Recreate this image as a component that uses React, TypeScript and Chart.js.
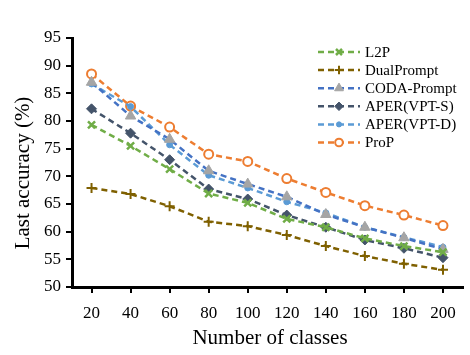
import React, { useEffect, useRef } from "react";
import { Chart, registerables } from "chart.js";
import { drawPoint } from "chart.js/helpers";

Chart.register(...registerables);

const categories = ["20", "40", "60", "80", "100", "120", "140", "160", "180", "200"];
const l2p = [79.3, 75.5, 71.3, 66.9, 65.2, 62.3, 60.8, 58.8, 57.4, 56.3];
const dualPrompt = [67.9, 66.8, 64.6, 61.8, 61.0, 59.4, 57.4, 55.6, 54.2, 53.1];
const codaPrompt = [87.0, 80.9, 76.7, 71.0, 68.6, 66.3, 63.1, 60.8, 58.9, 56.8];
const aperS = [82.2, 77.8, 73.0, 67.7, 65.9, 63.0, 60.8, 58.5, 57.0, 55.3];
const aperD = [86.7, 82.6, 75.7, 70.2, 67.9, 65.4, 63.4, 60.8, 59.0, 57.2];
const prop = [88.5, 82.7, 78.9, 74.0, 72.7, 69.6, 67.1, 64.7, 63.0, 61.1];
const yTicks = [50, 55, 60, 65, 70, 75, 80, 85, 90, 95];
const xTitle = "Number of classes";
const yTitle = "Last accuracy (%)";

const SERIF = "'Liberation Serif', 'Times New Roman', serif";

const legendPlugin = {
  id: "insideLegend",
  afterDraw(chart: any) {
    const ctx = chart.ctx;
    const x0 = 318;
    const y0 = 52;
    const step = 18.1;
    ctx.save();
    chart.data.datasets.forEach((ds: any, i: number) => {
      const y = y0 + i * step;
      ctx.strokeStyle = ds.borderColor;
      ctx.lineWidth = ds.borderWidth;
      ctx.setLineDash(ds.borderDash);
      ctx.beginPath();
      ctx.moveTo(x0, y);
      ctx.lineTo(x0 + 42, y);
      ctx.stroke();
      ctx.setLineDash([]);
      ctx.fillStyle = ds.pointBackgroundColor;
      ctx.strokeStyle = ds.pointBorderColor;
      ctx.lineWidth = ds.pointBorderWidth;
      drawPoint(ctx, { pointStyle: ds.pointStyle, radius: ds.pointRadius * 0.85, rotation: 0, borderWidth: ds.pointBorderWidth } as any, x0 + 21, y);
      ctx.fillStyle = "#000";
      ctx.font = `15px ${SERIF}`;
      ctx.textBaseline = "middle";
      ctx.textAlign = "left";
      ctx.fillText(ds.label, x0 + 47, y + 1);
    });
    // axis titles
    ctx.font = `21px ${SERIF}`;
    ctx.fillStyle = "#000";
    ctx.textAlign = "center";
    ctx.textBaseline = "middle";
    ctx.fillText(xTitle, 270, 338);
    ctx.translate(23, 173);
    ctx.rotate(-Math.PI / 2);
    ctx.fillText(yTitle, 0, 0);
    ctx.restore();
  },
};

export default function App() {
  const ref = useRef<HTMLCanvasElement>(null);
  useEffect(() => {
    document.body.style.margin = "0";
    const dash = [6, 4];
    const mk = (label: string, data: number[], color: string, o: any) => ({
      label,
      data,
      borderColor: color,
      borderWidth: 2.5,
      borderDash: dash,
      fill: false,
      tension: 0,
      pointBackgroundColor: color,
      pointBorderColor: color,
      pointBorderWidth: 2,
      pointRadius: 4,
      ...o,
    });
    const chart = new Chart(ref.current!, {
      type: "line",
      data: {
        labels: categories,
        datasets: [
          mk("L2P", l2p, "#70AD47", { pointStyle: "crossRot", pointRadius: 5, pointBorderWidth: 2.5 }),
          mk("DualPrompt", dualPrompt, "#7F6000", { pointStyle: "cross", pointRadius: 5, pointBorderWidth: 2 }),
          mk("CODA-Prompt", codaPrompt, "#4472C4", {
            pointStyle: "triangle",
            pointRadius: 6,
            pointBackgroundColor: "#A5A5A5",
            pointBorderColor: "#A5A5A5",
            pointBorderWidth: 1,
          }),
          mk("APER(VPT-S)", aperS, "#44546A", { pointStyle: "rectRot", pointRadius: 5, pointBorderWidth: 1 }),
          mk("APER(VPT-D)", aperD, "#5B9BD5", { pointStyle: "circle", pointRadius: 3, pointBorderWidth: 1 }),
          mk("ProP", prop, "#ED7D31", {
            pointStyle: "circle",
            pointRadius: 4.5,
            pointBackgroundColor: "#FFFFFF",
            pointBorderWidth: 2,
          }),
        ],
      },
      options: {
        animation: false,
        responsive: false,
        layout: { padding: { top: 38, right: 4, left: 0, bottom: 0 } },
        plugins: { legend: { display: false }, tooltip: { enabled: false } },
        scales: {
          x: {
            offset: true,
            grid: { display: true, drawOnChartArea: false, drawTicks: true, tickLength: 6, color: "#000", lineWidth: 2 },
            border: { display: true, color: "#000", width: 3 },
            ticks: { color: "#000", font: { family: SERIF, size: 17 }, padding: 10 },
            afterFit: (s: any) => { s.height = 68; },
          },
          y: {
            min: 50,
            max: 95,
            afterBuildTicks: (s: any) => { s.ticks = yTicks.map((v) => ({ value: v })); },
            grid: { display: true, drawOnChartArea: false, drawTicks: true, tickLength: 6, color: "#000", lineWidth: 2 },
            border: { display: true, color: "#000", width: 3 },
            ticks: { color: "#000", font: { family: SERIF, size: 17 }, padding: 5 },
            afterFit: (s: any) => { s.width = 72; },
          },
        },
      },
      plugins: [legendPlugin],
    });
    return () => chart.destroy();
  }, []);
  return <canvas ref={ref} width={470} height={355} style={{ display: "block" }} />;
}
